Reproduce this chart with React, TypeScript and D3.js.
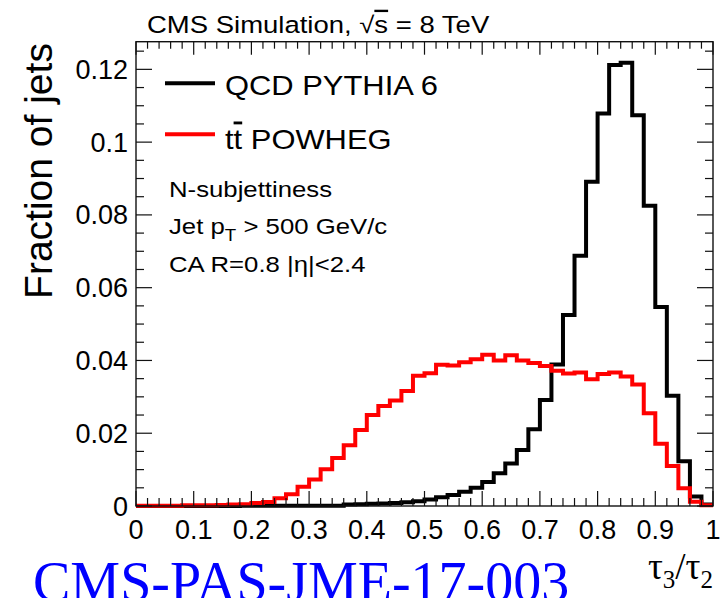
import React from "react";
import * as d3 from "d3";

// 50 bins of width 0.02 on tau3/tau2 from 0 to 1
const binEdges = d3.range(0, 51).map((i) => i / 50);
const qcdPythia6 = [
  0, 0, 0, 0, 0, 0, 0, 0, 0, 0.0001,
  0.0001, 0.0001, 0.0001, 0.0001, 0.0001, 0.0001, 0.0001, 0.0001, 0.0004, 0.0005,
  0.0006, 0.0007, 0.0008, 0.001, 0.0013, 0.0018, 0.0024, 0.003, 0.0039, 0.005,
  0.0066, 0.009, 0.0117, 0.0154, 0.0211, 0.0291, 0.0389, 0.0525, 0.0688, 0.0891,
  0.1079, 0.1212, 0.1218, 0.1074, 0.0825, 0.0547, 0.0303, 0.0123, 0.0026, 0.0004,
];
const ttPowheg = [
  0.0001, 0.0001, 0.0001, 0.0001, 0.0002, 0.0002, 0.0002, 0.0003, 0.0004, 0.0005,
  0.0008, 0.0011, 0.0021, 0.0032, 0.0053, 0.0073, 0.0101, 0.0132, 0.0167, 0.0209,
  0.025, 0.0275, 0.029, 0.0316, 0.0358, 0.0365, 0.0388, 0.0386, 0.0395, 0.0403,
  0.0416, 0.04, 0.0414, 0.04, 0.0393, 0.0385, 0.0372, 0.0364, 0.0367, 0.0348,
  0.0363, 0.0367, 0.0356, 0.0334, 0.0255, 0.0171, 0.011, 0.0049, 0.0012, 0.0002,
];
const xMajorTicks = [0, 0.1, 0.2, 0.3, 0.4, 0.5, 0.6, 0.7, 0.8, 0.9, 1];
const xTickLabels = ["0", "0.1", "0.2", "0.3", "0.4", "0.5", "0.6", "0.7", "0.8", "0.9", "1"];
const yMajorTicks = [0, 0.02, 0.04, 0.06, 0.08, 0.1, 0.12];
const yTickLabels = ["0", "0.02", "0.04", "0.06", "0.08", "0.1", "0.12"];
const legendLabels = ["QCD PYTHIA 6", "POWHEG"];
const infoLines = ["N-subjettiness", "Jet p", "CA R=0.8 |η|<2.4"];

const W = 722;
const H = 598;
const left = 136;
const right = 713;
const top = 41.7;
const bottom = 506;
const yMax = 0.1276;

const SANS = "'Liberation Sans', Arial, Helvetica, sans-serif";
const SERIF = "'Liberation Serif', 'Times New Roman', serif";

export default function App() {
  const x = d3.scaleLinear().domain([0, 1]).range([left, right]);
  const y = d3.scaleLinear().domain([0, yMax]).range([bottom, top]);

  const stepLine = d3
    .line<[number, number]>()
    .x((d) => x(d[0]))
    .y((d) => y(d[1]))
    .curve(d3.curveStepAfter);

  const toPts = (vals: number[]): [number, number][] => {
    const pts: [number, number][] = vals.map((v, i) => [binEdges[i], v]);
    pts.push([binEdges[50], vals[vals.length - 1]]);
    return pts;
  };

  const xMinor = d3.range(0, 51).map((i) => i / 50);
  const yMinor = d3.range(0, 26).map((i) => i * 0.005).filter((v) => v <= yMax);

  const axisColor = "#111";

  return (
    <svg
      width={W}
      height={H}
      style={{ position: "fixed", left: 0, top: 0, background: "#fff" }}
      fontFamily={SANS}
    >
      <rect x={0} y={0} width={W} height={H} fill="#fff" />

      {/* histograms */}
      <path d={stepLine(toPts(qcdPythia6)) || ""} fill="none" stroke="#000" strokeWidth={4} />
      <path d={stepLine(toPts(ttPowheg)) || ""} fill="none" stroke="#ff0000" strokeWidth={4} />

      {/* frame */}
      <rect x={left} y={top} width={right - left} height={bottom - top} fill="none" stroke={axisColor} strokeWidth={1.4} />

      {/* x ticks */}
      {xMinor.map((v, i) => {
        const major = i % 5 === 0;
        return (
          <g key={"xt" + i}>
            <line x1={x(v)} x2={x(v)} y1={bottom} y2={bottom - (major ? 15 : 8)} stroke={axisColor} strokeWidth={1.2} />
            <line x1={x(v)} x2={x(v)} y1={top} y2={top + (major ? 13 : 7)} stroke={axisColor} strokeWidth={1.2} />
          </g>
        );
      })}
      {/* y ticks */}
      {yMinor.map((v, i) => {
        const major = i % 4 === 0;
        return (
          <g key={"yt" + i}>
            <line x1={left} x2={left + (major ? 16 : 8)} y1={y(v)} y2={y(v)} stroke={axisColor} strokeWidth={1.2} />
            <line x1={right} x2={right - (major ? 16 : 8)} y1={y(v)} y2={y(v)} stroke={axisColor} strokeWidth={1.2} />
          </g>
        );
      })}

      {/* tick labels */}
      {xMajorTicks.map((v, i) => (
        <text key={"xl" + i} x={x(v)} y={539} fontSize={27} textAnchor="middle" fill="#000">
          {xTickLabels[i]}
        </text>
      ))}
      {yMajorTicks.map((v, i) => (
        <text key={"yl" + i} x={128} y={y(v) + 9.5} fontSize={27} textAnchor="end" fill="#000">
          {yTickLabels[i]}
        </text>
      ))}

      {/* axis titles */}
      <text transform="translate(52,171) rotate(-90)" fontSize={39} textAnchor="middle" fill="#000">
        Fraction of jets
      </text>
      <text x={713} y={579} fontSize={37} textAnchor="end" fontFamily={SERIF} fill="#000">
        τ<tspan fontSize={25} dy={9}>3</tspan>
        <tspan dy={-9}>/τ</tspan>
        <tspan fontSize={25} dy={9}>2</tspan>
      </text>

      {/* header */}
      <text transform="translate(147,32.7) scale(1.17,1)" fontSize={23.5} fill="#000">
        CMS Simulation, √<tspan style={{ textDecoration: "overline" }}>s</tspan> = 8 TeV
      </text>

      {/* legend */}
      <line x1={165} x2={215} y1={83.3} y2={83.3} stroke="#000" strokeWidth={4} />
      <text transform="translate(225,95) scale(1.085,1)" fontSize={28.5} fill="#000">
        {legendLabels[0]}
      </text>
      <line x1={165} x2={215} y1={134.3} y2={134.3} stroke="#ff0000" strokeWidth={4} />
      <text transform="translate(225,149.3) scale(1.085,1)" fontSize={28.5} fill="#000">
        t<tspan style={{ textDecoration: "overline" }}>t</tspan> {legendLabels[1]}
      </text>

      {/* info text */}
      <text transform="translate(169,196.7) scale(1.17,1)" fontSize={22} fill="#000">
        {infoLines[0]}
      </text>
      <text transform="translate(169,234.3) scale(1.17,1)" fontSize={22} fill="#000">
        {infoLines[1]}
        <tspan fontSize={16} dy={7}>T</tspan>
        <tspan dy={-7}> &gt; 500 GeV/c</tspan>
      </text>
      <text transform="translate(169,271.7) scale(1.17,1)" fontSize={22} fill="#000">
        {infoLines[2]}
      </text>

      {/* bottom note */}
      <text x={33} y={601} fontSize={56} fontFamily={SERIF} fill="#0000ff">
        CMS-PAS-JME-17-003
      </text>
    </svg>
  );
}
